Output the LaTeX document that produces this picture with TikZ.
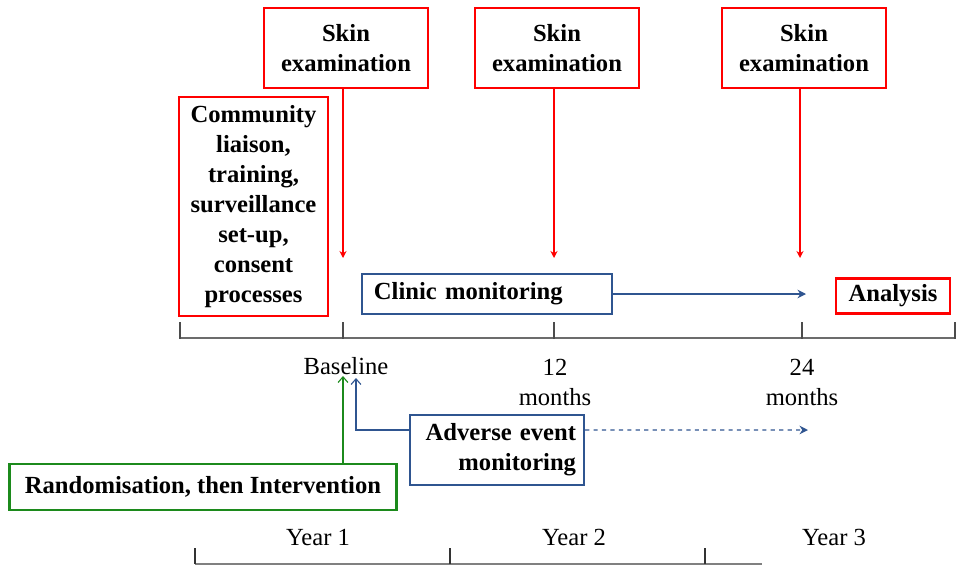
\documentclass[tikz,border=0pt]{standalone}
\usepackage{fontspec}
\setmainfont{Liberation Serif}
\usetikzlibrary{arrows.meta}
\definecolor{ExamRed}{HTML}{FF0000}
\definecolor{MonBlue}{HTML}{2F5590}
\definecolor{RandGreen}{HTML}{1C8A1C}

\begin{document}
\begin{tikzpicture}[x=0.025cm, y=-0.025cm,
		every node/.style={font=\fontsize{17.5}{21.3}\selectfont},
		redbox/.style={draw=ExamRed, line width=2pt, font=\fontsize{17.5}{21.3}\selectfont\bfseries, align=center},
		bluebox/.style={draw=MonBlue, line width=1.5pt, font=\fontsize{17.5}{21.3}\selectfont\bfseries},
		redarrow/.style={ExamRed, line width=1.3pt, -{Stealth[length=5pt,width=5pt]}},
		bluearrow/.style={MonBlue, line width=1.3pt, -{Stealth[length=6pt,width=6pt]}},
		uparrow/.style={line width=0.8pt, -{Straight Barb[length=4pt,width=7pt]}}]
	\useasboundingbox (0,0) rectangle (961,566);
	% boxes
	\node[redbox, minimum width=4.1cm, minimum height=2cm] (skinA) at (346,48) {Skin\\examination};
	\node[redbox, minimum width=4.1cm, minimum height=2cm] (skinB) at (557,48) {Skin\\examination};
	\node[redbox, minimum width=4.1cm, minimum height=2cm] (skinC) at (804,48) {Skin\\examination};
	\node[redbox, minimum width=3.725cm, minimum height=5.475cm] (prep) at (253.5,206.5) {Community\\liaison,\\training,\\surveillance\\set-up,\\consent\\processes};
	\node[redbox, minimum width=2.85cm, minimum height=0.875cm, inner sep=0pt] (analysis) at (893,296) {Analysis};
	\node[bluebox, minimum height=1cm, inner xsep=0.3cm, text width=5.65cm, align=left] (clinic) at (487,294) {Clinic monitoring};
	\node[bluebox, minimum height=1.75cm, inner xsep=0.2cm, text width=3.95cm, align=right] (adverse) at (497,450) {Adverse event\\monitoring};
	\node[draw=RandGreen, line width=2pt, font=\fontsize{17.5}{21.3}\selectfont\bfseries, minimum width=9.675cm, minimum height=1.15cm] (rand) at (203,487) {Randomisation, then Intervention};
	% time axis
	\draw[gray!85!black, line width=1.2pt] (180,338) -- (955,338);
	\foreach \x in {180,343,554,802,955}
		\draw[black!70, line width=0.8pt] (\x,322) -- (\x,339);
	\node (base) at (346,366) {Baseline};
	\node[align=center] (mTwelve) at (555,382) {12\\months};
	\node[align=center] (mTwentyFour) at (802,382) {24\\months};
	% arrows
	\coordinate (tipA) at (343,258);
	\coordinate (tipB) at (554,258);
	\coordinate (tipC) at (800,258);
	\draw[redarrow] (skinA.south -| tipA) -- (tipA);
	\draw[redarrow] (skinB.south -| tipB) -- (tipB);
	\draw[redarrow] (skinC.south -| tipC) -- (tipC);
	\coordinate (clinicEnd) at (806,294);
	\draw[bluearrow] (clinic.east) -- (clinicEnd);
	\coordinate (adverseEnd) at (808,430);
	\draw[bluearrow, dashed, line width=1pt] ([yshift=0.5cm]adverse.east) -- (adverseEnd);
	\coordinate (randTip) at (343,376);
	\coordinate (adverseTip) at (356,378);
	\draw[uparrow, RandGreen] (rand.north -| randTip) -- (randTip);
	\draw[uparrow, MonBlue] ([yshift=0.5cm]adverse.west) -| (adverseTip);
	% years
	\node (yearA) at (318,537) {Year 1};
	\node (yearB) at (574,537) {Year 2};
	\node (yearC) at (834,537) {Year 3};
	\draw[gray, line width=0.8pt] (195,564) -- (762,564);
	\foreach \x in {195,450,705}
		\draw[black!80, line width=0.8pt] (\x,548) -- (\x,564);
\end{tikzpicture}
\end{document}
